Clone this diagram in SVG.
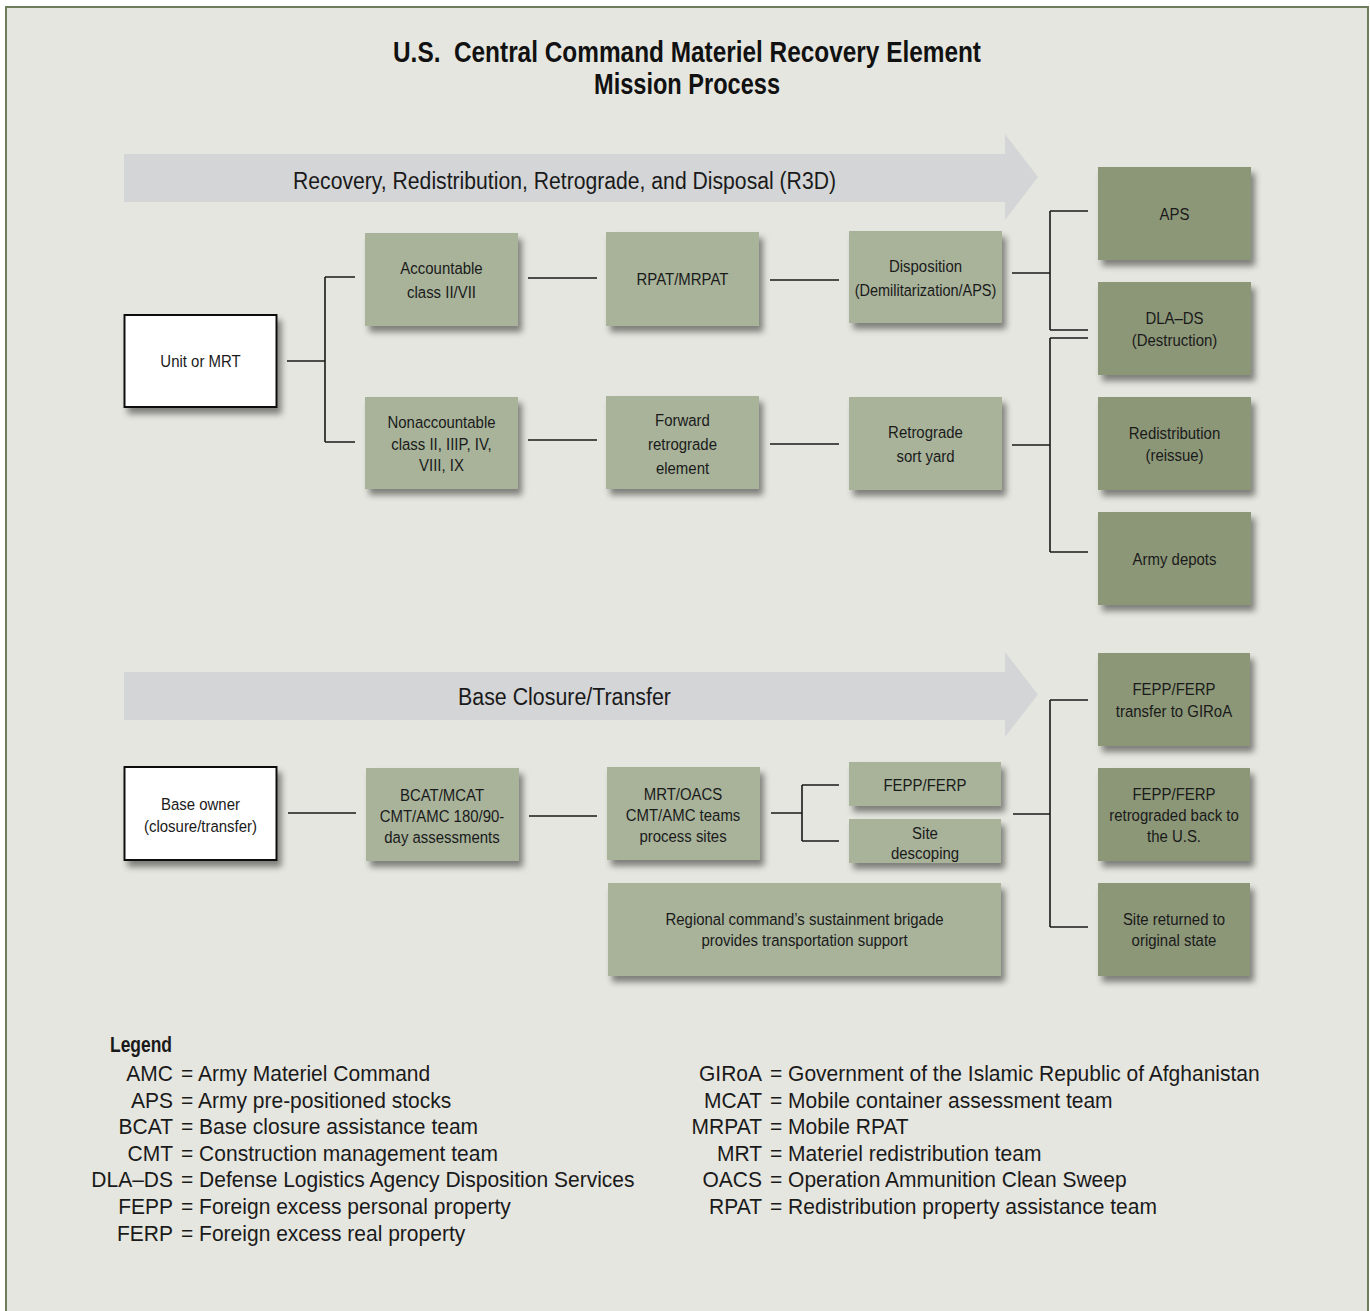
<svg xmlns="http://www.w3.org/2000/svg" width="1370" height="1311" viewBox="0 0 1370 1311">
<defs>
<filter id="sh" x="-20%" y="-20%" width="150%" height="160%">
<feDropShadow dx="4" dy="6" stdDeviation="3" flood-color="#000" flood-opacity="0.45"/>
</filter>
<style>
.lt{fill:#a8b39a;filter:url(#sh)}
.dk{fill:#8c9778;filter:url(#sh)}
.wh{fill:#fff;stroke:#111;stroke-width:2;filter:url(#sh)}
.t{font-family:"Liberation Sans",Arial,sans-serif;font-size:17px;fill:#1a1a1a;text-anchor:middle}
.arr{fill:#d4d5d7}
.al{font-family:"Liberation Sans",Arial,sans-serif;font-size:23.5px;fill:#1a1a1a;text-anchor:middle}
.ttl{font-family:"Liberation Sans",Arial,sans-serif;font-size:29px;font-weight:bold;fill:#111;text-anchor:middle}
.lg{font-family:"Liberation Sans",Arial,sans-serif;font-size:22px;fill:#1a1a1a}
.ab{text-anchor:end}
.cn{fill:none;stroke:#1a1a1a;stroke-width:1.6}
</style>
</defs>
<rect x="0" y="0" width="1370" height="1311" fill="#fff"/>
<rect x="6" y="7" width="1362" height="1320" fill="#e6e6e0" stroke="#6e7e5c" stroke-width="2"/>

<g id="title">
<text class="ttl" x="687" y="62" xml:space="preserve" textLength="588" lengthAdjust="spacingAndGlyphs">U.S.  Central Command Materiel Recovery Element</text>
<text class="ttl" x="687" y="94" textLength="186" lengthAdjust="spacingAndGlyphs">Mission Process</text>
</g>

<g id="arrow-r3d">
<polygon class="arr" points="124,154 1005,154 1005,134 1038,177 1005,220 1005,202 124,202"/>
<text class="al" x="564.5" y="189" textLength="543" lengthAdjust="spacingAndGlyphs">Recovery, Redistribution, Retrograde, and Disposal (R3D)</text>
</g>
<g id="arrow-bct">
<polygon class="arr" points="124,672 1005,672 1005,652 1038,694.5 1005,737 1005,720 124,720"/>
<text class="al" x="564.5" y="705" textLength="213" lengthAdjust="spacingAndGlyphs">Base Closure/Transfer</text>
</g>

<g id="connectors">
<path class="cn" d="M287,361H325M325,277V442M325,277H355M325,442H355"/>
<path class="cn" d="M528,278H597M770,280H839"/>
<path class="cn" d="M528,440H597M770,444H839"/>
<path class="cn" d="M1012,273H1050M1050,211V330M1050,211H1088M1050,330H1088"/>
<path class="cn" d="M1012,445H1050M1050,338V552M1050,338H1088M1050,552H1088"/>
<path class="cn" d="M288,813H356M529,816H597"/>
<path class="cn" d="M771,813H802M802,785V841M802,785H839M802,841H839"/>
<path class="cn" d="M1013,814H1050M1050,700V927M1050,700H1088M1050,927H1088"/>
</g>

<g id="unit"><rect class="wh" x="124.5" y="315" width="152" height="92"/><g transform="translate(200.5,0) scale(0.88,1)"><text class="t" x="0" y="367">Unit or MRT</text></g></g>
<g id="accountable"><rect class="lt" x="365" y="233" width="153" height="93"/><g transform="translate(441.5,0) scale(0.88,1)"><text class="t" x="0" y="274">Accountable</text><text class="t" x="0" y="298">class II/VII</text></g></g>
<g id="rpat"><rect class="lt" x="606" y="232" width="153" height="94"/><g transform="translate(682.5,0) scale(0.88,1)"><text class="t" x="0" y="285">RPAT/MRPAT</text></g></g>
<g id="disposition"><rect class="lt" x="849" y="231" width="153" height="92"/><g transform="translate(925.5,0) scale(0.88,1)"><text class="t" x="0" y="272">Disposition</text><text class="t" x="0" y="296" textLength="161" lengthAdjust="spacingAndGlyphs">(Demilitarization/APS)</text></g></g>
<g id="nonaccountable"><rect class="lt" x="365" y="397" width="153" height="92"/><g transform="translate(441.5,0) scale(0.88,1)"><text class="t" x="0" y="428">Nonaccountable</text><text class="t" x="0" y="450">class II, IIIP, IV,</text><text class="t" x="0" y="471">VIII, IX</text></g></g>
<g id="forward"><rect class="lt" x="606" y="396" width="153" height="93"/><g transform="translate(682.5,0) scale(0.88,1)"><text class="t" x="0" y="426">Forward</text><text class="t" x="0" y="450">retrograde</text><text class="t" x="0" y="474">element</text></g></g>
<g id="sortyard"><rect class="lt" x="849" y="397" width="153" height="93"/><g transform="translate(925.5,0) scale(0.88,1)"><text class="t" x="0" y="438">Retrograde</text><text class="t" x="0" y="462">sort yard</text></g></g>
<g id="aps"><rect class="dk" x="1098" y="167" width="153" height="93"/><g transform="translate(1174.5,0) scale(0.88,1)"><text class="t" x="0" y="220">APS</text></g></g>
<g id="dlads"><rect class="dk" x="1098" y="282" width="153" height="93"/><g transform="translate(1174.5,0) scale(0.88,1)"><text class="t" x="0" y="324">DLA–DS</text><text class="t" x="0" y="346">(Destruction)</text></g></g>
<g id="redistribution"><rect class="dk" x="1098" y="397" width="153" height="93"/><g transform="translate(1174.5,0) scale(0.88,1)"><text class="t" x="0" y="439">Redistribution</text><text class="t" x="0" y="461">(reissue)</text></g></g>
<g id="depots"><rect class="dk" x="1098" y="512" width="153" height="93"/><g transform="translate(1174.5,0) scale(0.88,1)"><text class="t" x="0" y="565">Army depots</text></g></g>

<g id="baseowner"><rect class="wh" x="124.5" y="767" width="152" height="93"/><g transform="translate(200.5,0) scale(0.88,1)"><text class="t" x="0" y="810">Base owner</text><text class="t" x="0" y="832">(closure/transfer)</text></g></g>
<g id="bcat"><rect class="lt" x="366" y="768" width="153" height="93"/><g transform="translate(442,0) scale(0.88,1)"><text class="t" x="0" y="801">BCAT/MCAT</text><text class="t" x="0" y="822">CMT/AMC 180/90-</text><text class="t" x="0" y="843">day assessments</text></g></g>
<g id="mrtoacs"><rect class="lt" x="607" y="767" width="153" height="93"/><g transform="translate(683,0) scale(0.88,1)"><text class="t" x="0" y="800">MRT/OACS</text><text class="t" x="0" y="821">CMT/AMC teams</text><text class="t" x="0" y="842">process sites</text></g></g>
<g id="fepp"><rect class="lt" x="849" y="762" width="152" height="44"/><g transform="translate(925,0) scale(0.88,1)"><text class="t" x="0" y="791">FEPP/FERP</text></g></g>
<g id="descoping"><rect class="lt" x="849" y="819" width="152" height="44"/><g transform="translate(925,0) scale(0.88,1)"><text class="t" x="0" y="839">Site</text><text class="t" x="0" y="859">descoping</text></g></g>
<g id="regional"><rect class="lt" x="608" y="883" width="393" height="93"/><g transform="translate(804.5,0) scale(0.88,1)"><text class="t" x="0" y="925">Regional command’s sustainment brigade</text><text class="t" x="0" y="946">provides transportation support</text></g></g>
<g id="giroa"><rect class="dk" x="1098" y="653" width="152" height="93"/><g transform="translate(1174,0) scale(0.88,1)"><text class="t" x="0" y="695">FEPP/FERP</text><text class="t" x="0" y="717">transfer to GIRoA</text></g></g>
<g id="retrograded"><rect class="dk" x="1098" y="768" width="152" height="93"/><g transform="translate(1174,0) scale(0.88,1)"><text class="t" x="0" y="800">FEPP/FERP</text><text class="t" x="0" y="821">retrograded back to</text><text class="t" x="0" y="842">the U.S.</text></g></g>
<g id="returned"><rect class="dk" x="1098" y="883" width="152" height="93"/><g transform="translate(1174,0) scale(0.88,1)"><text class="t" x="0" y="925">Site returned to</text><text class="t" x="0" y="946">original state</text></g></g>

<g id="legend">
<text class="lg" x="110" y="1052" font-weight="bold" font-size="21" textLength="62" lengthAdjust="spacingAndGlyphs">Legend</text>
<g transform="translate(173,0) scale(0.955,1)">
<text class="lg ab" x="0" y="1081">AMC</text><text class="lg" x="8.4" y="1081">= Army Materiel Command</text>
<text class="lg ab" x="0" y="1108">APS</text><text class="lg" x="8.4" y="1108">= Army pre-positioned stocks</text>
<text class="lg ab" x="0" y="1134">BCAT</text><text class="lg" x="8.4" y="1134">= Base closure assistance team</text>
<text class="lg ab" x="0" y="1161">CMT</text><text class="lg" x="8.4" y="1161">= Construction management team</text>
<text class="lg ab" x="0" y="1187">DLA–DS</text><text class="lg" x="8.4" y="1187">= Defense Logistics Agency Disposition Services</text>
<text class="lg ab" x="0" y="1214">FEPP</text><text class="lg" x="8.4" y="1214">= Foreign excess personal property</text>
<text class="lg ab" x="0" y="1241">FERP</text><text class="lg" x="8.4" y="1241">= Foreign excess real property</text>
</g>
<g transform="translate(762,0) scale(0.955,1)">
<text class="lg ab" x="0" y="1081">GIRoA</text><text class="lg" x="8.4" y="1081">= Government of the Islamic Republic of Afghanistan</text>
<text class="lg ab" x="0" y="1108">MCAT</text><text class="lg" x="8.4" y="1108">= Mobile container assessment team</text>
<text class="lg ab" x="0" y="1134">MRPAT</text><text class="lg" x="8.4" y="1134">= Mobile RPAT</text>
<text class="lg ab" x="0" y="1161">MRT</text><text class="lg" x="8.4" y="1161">= Materiel redistribution team</text>
<text class="lg ab" x="0" y="1187">OACS</text><text class="lg" x="8.4" y="1187">= Operation Ammunition Clean Sweep</text>
<text class="lg ab" x="0" y="1214">RPAT</text><text class="lg" x="8.4" y="1214">= Redistribution property assistance team</text>
</g>
</g>
</svg>
